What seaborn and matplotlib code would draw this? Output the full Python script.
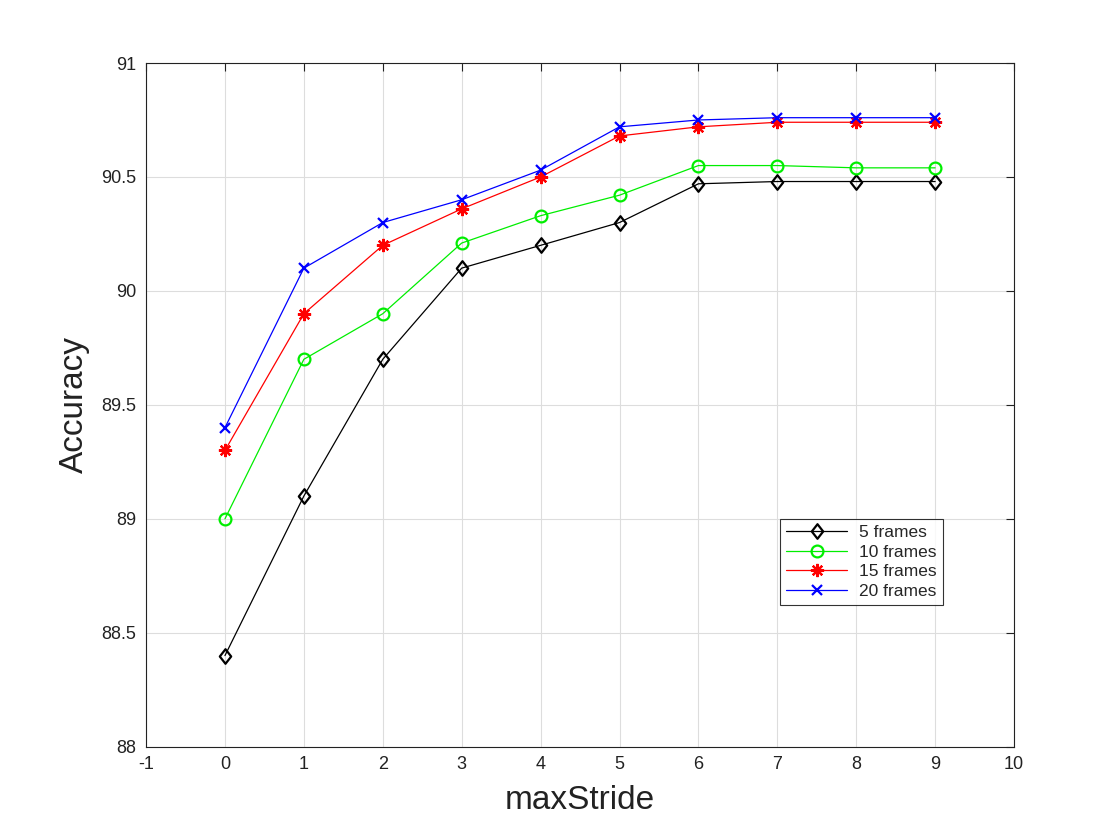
import numpy as np
import pandas as pd
import seaborn as sns
import matplotlib
matplotlib.use('Agg')
import matplotlib.pyplot as plt
from matplotlib.path import Path

# === DATI ===
stride = [0, 1, 2, 3, 4, 5, 6, 7, 8, 9]
acc_5 = [88.4, 89.1, 89.7, 90.1, 90.2, 90.3, 90.47, 90.48, 90.48, 90.48]
acc_10 = [89.0, 89.7, 89.9, 90.21, 90.33, 90.42, 90.55, 90.55, 90.54, 90.54]
acc_15 = [89.3, 89.9, 90.2, 90.36, 90.5, 90.68, 90.72, 90.74, 90.74, 90.74]
acc_20 = [89.4, 90.1, 90.3, 90.4, 90.53, 90.72, 90.75, 90.76, 90.76, 90.76]
labels = ['5 frames', '10 frames', '15 frames', '20 frames']

sns.set_style('white')
plt.rcParams['font.family'] = ['Liberation Sans', 'DejaVu Sans']
plt.rcParams['axes.unicode_minus'] = False

fig = plt.figure(figsize=(11.2, 8.4), dpi=100)
ax = fig.add_axes([0.1304, 0.111, 0.775, 0.814])

# rombo stile MATLAB (piu largo del 'd' di matplotlib)
diamond = Path([(0, 1), (0.78, 0), (0, -1), (-0.78, 0), (0, 1)],
               [Path.MOVETO, Path.LINETO, Path.LINETO, Path.LINETO, Path.CLOSEPOLY])

series = [acc_5, acc_10, acc_15, acc_20]
colors = ['black', '#00ee00', 'red', 'blue']
markers = [diamond, 'o', (8, 2, 0), 'x']
sizes = [10.5, 8.5, 9.5, 7.5]
hollow = [True, True, False, False]

for vals, lab, col, mk, ms, h in zip(series, labels, colors, markers, sizes, hollow):
  df = pd.DataFrame({'maxStride': stride, 'Accuracy': vals})
  sns.lineplot(data=df, x='maxStride', y='Accuracy', ax=ax, color=col, label=lab,
               marker=mk, markersize=ms, markerfacecolor='none' if h else col,
               markeredgecolor=col, markeredgewidth=1.6, linewidth=0.9)

ax.set_xlim(-1, 10)
ax.set_ylim(88, 91)
ax.set_xticks(range(-1, 11))
ax.set_yticks(np.arange(88, 91.01, 0.5))
ax.set_yticklabels(['88', '88.5', '89', '89.5', '90', '90.5', '91'])
ax.grid(True, color='#dddddd', linewidth=0.8)
ax.tick_params(direction='in', top=True, right=True, labelsize=13, length=6,
               pad=7, color='#222222', labelcolor='#222222')
for s in ax.spines.values():
  s.set_color('#222222')
  s.set_linewidth(0.8)

ax.set_xlabel('maxStride', fontsize=24, labelpad=8, color='#222222')
ax.set_ylabel('Accuracy', fontsize=24, labelpad=8, color='#222222')

leg = ax.legend(loc='lower left', bbox_to_anchor=(0.7307, 0.2076), borderaxespad=0,
                fontsize=12.5, frameon=True, fancybox=False, edgecolor='black',
                handlelength=3.5, borderpad=0.35, labelspacing=0.25, handletextpad=0.7)
leg.get_frame().set_linewidth(0.8)

fig.savefig('out.png', dpi=100)
